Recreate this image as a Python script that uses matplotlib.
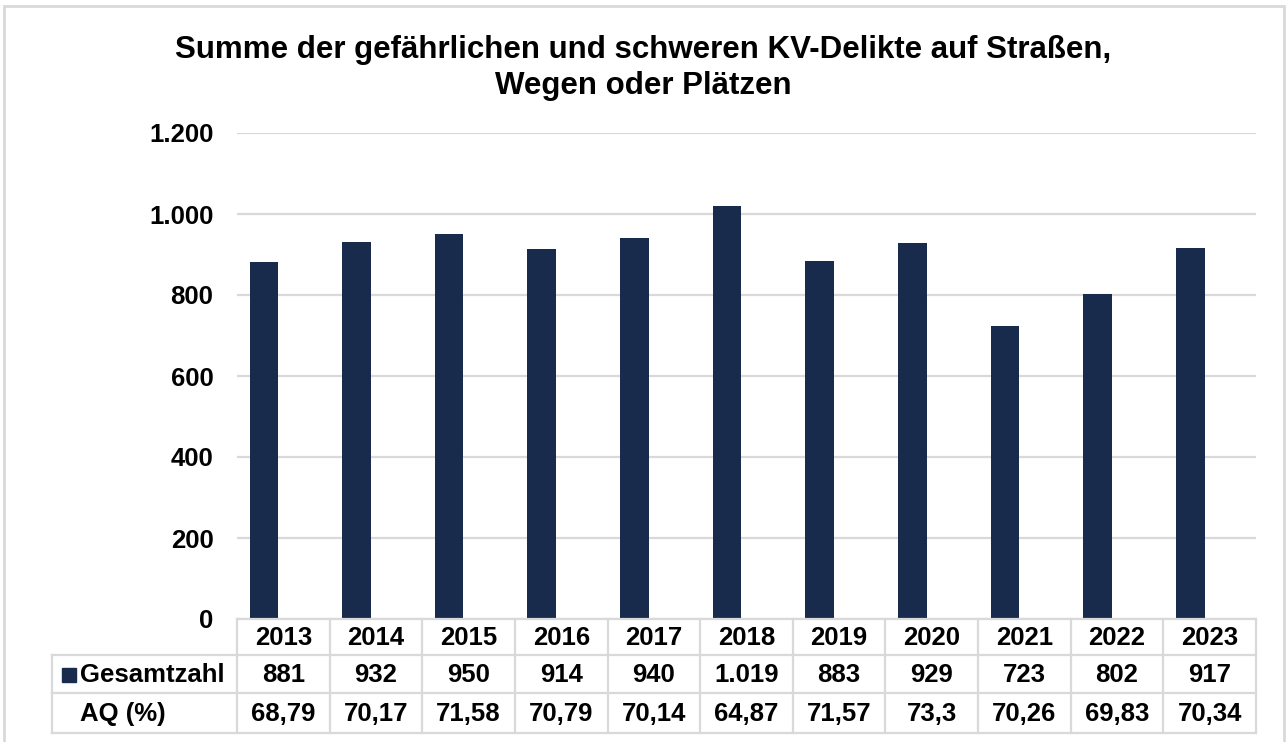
import numpy as np
import matplotlib.pyplot as plt
from matplotlib.lines import Line2D
from matplotlib.patches import Rectangle
from matplotlib.transforms import blended_transform_factory

plt.rcParams['font.family'] = ['Liberation Sans', 'DejaVu Sans']
plt.rcParams['font.weight'] = 'bold'

# Daten
jahre = ['2013', '2014', '2015', '2016', '2017', '2018', '2019', '2020', '2021', '2022', '2023']
gesamtzahl = [881, 932, 950, 914, 940, 1019, 883, 929, 723, 802, 917]
aq = [68.79, 70.17, 71.58, 70.79, 70.14, 64.87, 71.57, 73.3, 70.26, 69.83, 70.34]
y_ticks = [0, 200, 400, 600, 800, 1000, 1200]

titel = "Summe der gefährlichen und schweren KV-Delikte auf Straßen,\nWegen oder Plätzen"

W, H = 1287, 742
balken_farbe = '#182b4d'
linien_farbe = '#d9d9d9'


def de_zahl(v):
    # deutsche Tausendertrennung
    return f"{v:,}".replace(',', '.')


def de_dezimal(v):
    return f"{v:g}".replace('.', ',')


def fy(py):
    # Pixel (von oben) -> Figure-Koordinate
    return 1 - py / H


def fx(px):
    return px / W


fig = plt.figure(figsize=(W / 100, H / 100), dpi=100)
fig.patch.set_facecolor('white')

x_left, x_right = 237, 1256
y_top, y_bottom = 133, 619
ax = fig.add_axes([fx(x_left), fy(y_bottom), fx(x_right - x_left), (y_bottom - y_top) / H])

n = len(jahre)
x = np.arange(n)
ax.bar(x - 0.21, gesamtzahl, width=0.31, color=balken_farbe, zorder=3)
ax.set_xlim(-0.5, n - 0.5)
ax.set_ylim(0, 1200)
ax.set_yticks(y_ticks)
ax.set_yticklabels([de_zahl(t) for t in y_ticks], fontsize=18.5, fontweight='bold')
ax.tick_params(axis='y', length=0, pad=17)
ax.set_xticks([])
ax.grid(axis='y', color=linien_farbe, linewidth=1.6, zorder=0)
for s in ax.spines.values():
    s.set_visible(False)

# Titel
fig.text(0.5, fy(68), titel, ha='center', va='center', fontsize=22.5,
         fontweight='bold', linespacing=1.22)

# Datentabelle
tr = blended_transform_factory(ax.transData, fig.transFigure)
rows = [619, 655, 693, 733]
lw = 1.6
for i, ry in enumerate(rows):
    left = x_left if i == 0 else 52
    fig.add_artist(Line2D([fx(left), fx(x_right)], [fy(ry), fy(ry)],
                          color=linien_farbe, linewidth=lw))
for k in range(n + 1):
    fig.add_artist(Line2D([fx(x_left + k * (x_right - x_left) / n)] * 2,
                          [fy(rows[0]), fy(rows[3])], color=linien_farbe, linewidth=lw))
fig.add_artist(Line2D([fx(52), fx(52)], [fy(rows[1]), fy(rows[3])],
                      color=linien_farbe, linewidth=lw))

ts = 18.5
for i in range(n):
    fig.text(x[i], fy(638), jahre[i], transform=tr, ha='center', va='center',
             fontsize=ts, fontweight='bold')
    fig.text(x[i], fy(675), de_zahl(gesamtzahl[i]), transform=tr, ha='center',
             va='center', fontsize=ts, fontweight='bold')
    fig.text(x[i], fy(714), de_dezimal(aq[i]), transform=tr, ha='center',
             va='center', fontsize=ts, fontweight='bold')

fig.add_artist(Rectangle((fx(62), fy(682)), fx(14), 14 / H, color=balken_farbe))
fig.text(fx(80), fy(675), 'Gesamtzahl', ha='left', va='center', fontsize=ts, fontweight='bold')
fig.text(fx(80), fy(714), 'AQ (%)', ha='left', va='center', fontsize=ts, fontweight='bold')

# Rahmen
fig.add_artist(Rectangle((fx(4), -0.05), fx(1280), fy(6) + 0.05, fill=False,
                         edgecolor=linien_farbe, linewidth=2))

fig.savefig('out.png', dpi=100)
